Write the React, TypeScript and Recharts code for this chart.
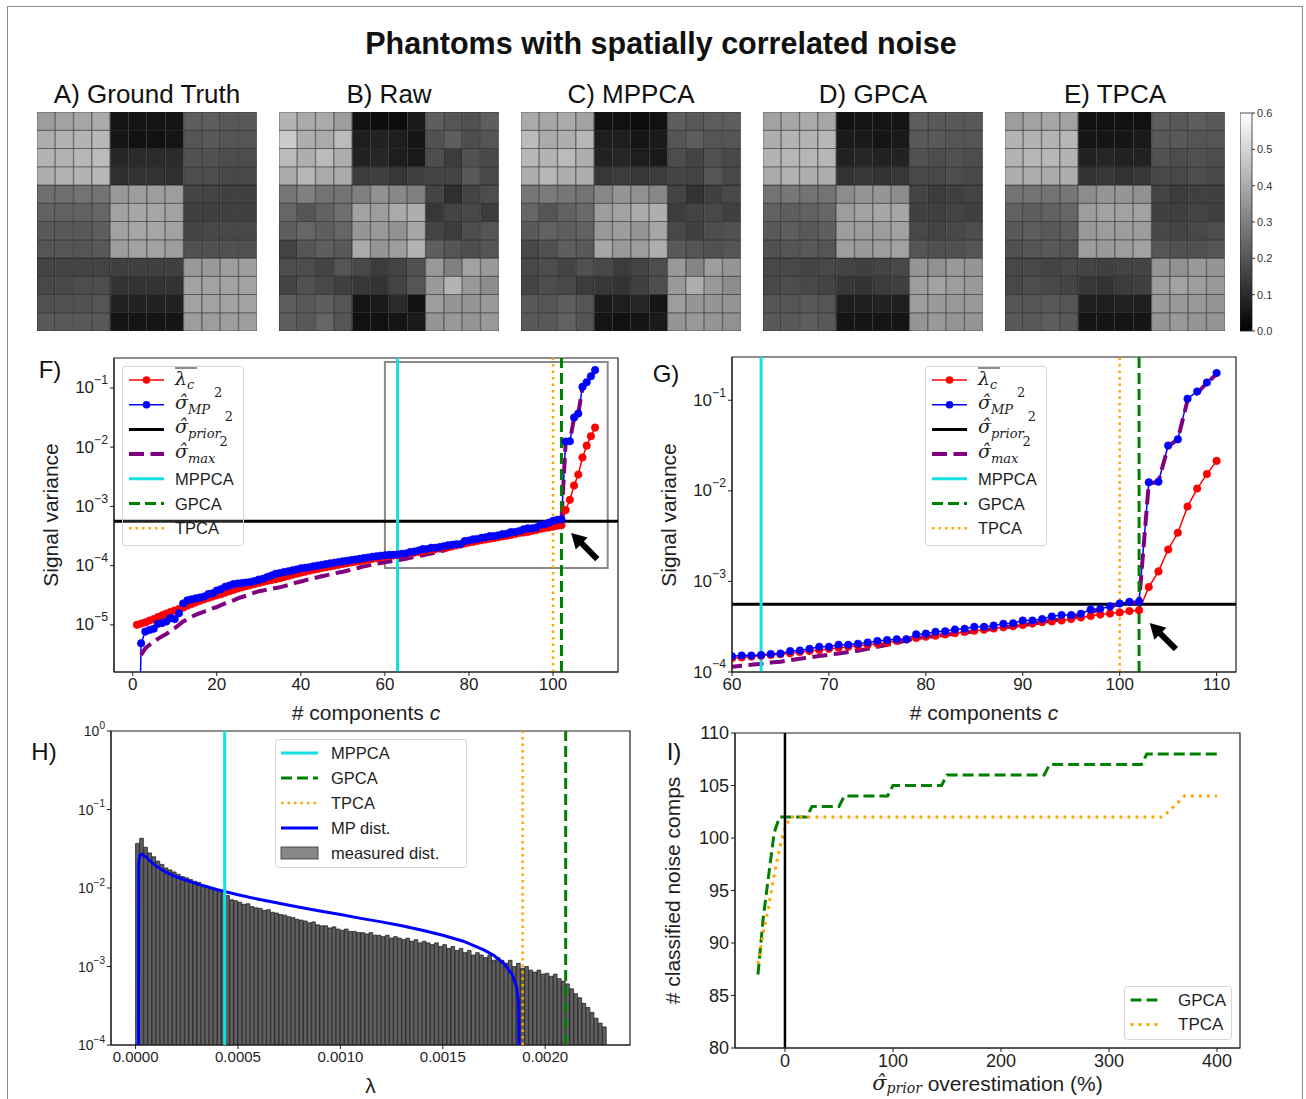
import React from "react";
import {
  LineChart,
  Line,
  BarChart,
  Bar,
  Cell,
  XAxis,
  YAxis,
  ReferenceLine,
  ReferenceArea,
  ReferenceDot,
  Legend,
} from "recharts";

const FONT = '"Liberation Sans", Arial, Helvetica, sans-serif';
const MATH = '"DejaVu Serif", "Liberation Serif", serif';
const INK = "#1e1e1e";
const RED = "#ff0000";
const BLUE = "#0000ff";
const PURPLE = "#800080";
const CYAN = "#14e0e0";
const GREEN = "#008000";
const ORANGE = "#ffa500";

// ---- phantom images, pixel values x100 (colour scale 0 .. 0.6) ----
const GROUND_TRUTH = [
  [37, 38, 39, 40, 5, 5, 5, 5, 22, 22, 21, 21],
  [41, 42, 42, 43, 5, 4, 4, 5, 20, 21, 20, 20],
  [42, 42, 43, 44, 9, 10, 10, 10, 19, 19, 18, 18],
  [41, 42, 42, 43, 11, 12, 12, 11, 18, 18, 17, 17],
  [26, 26, 27, 27, 36, 37, 37, 37, 16, 16, 15, 15],
  [23, 23, 23, 24, 38, 39, 39, 38, 15, 15, 15, 15],
  [21, 21, 21, 22, 38, 39, 39, 38, 16, 17, 17, 17],
  [20, 20, 20, 21, 37, 38, 38, 37, 19, 19, 19, 19],
  [16, 16, 16, 16, 15, 15, 15, 15, 36, 36, 37, 37],
  [17, 17, 18, 18, 12, 12, 12, 12, 38, 38, 38, 38],
  [19, 19, 19, 20, 8, 8, 8, 8, 38, 38, 38, 38],
  [21, 21, 21, 21, 5, 5, 5, 5, 37, 37, 37, 37],
];
const RAW = [
  [42, 40, 40, 37, 4, 3, 3, 6, 22, 20, 19, 22],
  [48, 41, 40, 44, 7, 8, 7, 5, 19, 22, 18, 20],
  [44, 41, 44, 41, 8, 9, 7, 6, 18, 14, 19, 17],
  [40, 43, 40, 40, 14, 15, 13, 15, 16, 16, 21, 17],
  [28, 30, 27, 27, 30, 34, 32, 30, 16, 11, 16, 18],
  [24, 20, 23, 26, 38, 37, 40, 41, 13, 16, 17, 14],
  [22, 24, 22, 24, 35, 36, 34, 39, 16, 14, 18, 20],
  [16, 20, 22, 21, 40, 35, 37, 42, 22, 20, 18, 20],
  [18, 18, 16, 20, 17, 14, 16, 19, 36, 30, 38, 36],
  [16, 19, 17, 15, 13, 12, 16, 20, 36, 42, 36, 33],
  [22, 21, 22, 20, 5, 6, 10, 4, 37, 35, 35, 36],
  [22, 21, 24, 20, 4, 4, 5, 6, 35, 36, 35, 36],
];
const MPPCA_IMG = [
  [40, 39, 40, 38, 4, 4, 3, 4, 22, 21, 22, 22],
  [44, 40, 41, 43, 7, 7, 5, 6, 20, 22, 20, 20],
  [43, 42, 44, 41, 8, 9, 7, 6, 18, 16, 19, 17],
  [41, 43, 41, 41, 13, 14, 13, 14, 16, 16, 20, 17],
  [28, 29, 28, 27, 32, 35, 34, 32, 16, 12, 15, 17],
  [24, 20, 23, 25, 37, 38, 40, 41, 14, 16, 17, 15],
  [21, 23, 22, 23, 36, 37, 35, 39, 17, 15, 18, 19],
  [17, 19, 22, 21, 39, 36, 37, 41, 21, 20, 19, 20],
  [17, 18, 16, 19, 17, 14, 16, 18, 36, 31, 37, 35],
  [16, 18, 17, 14, 13, 12, 15, 18, 36, 41, 36, 33],
  [21, 20, 22, 20, 6, 7, 9, 5, 37, 35, 35, 35],
  [21, 21, 23, 20, 5, 4, 5, 6, 35, 36, 35, 34],
];
const GPCA_IMG = [
  [38, 39, 40, 39, 4, 5, 5, 5, 22, 21, 21, 21],
  [41, 42, 42, 43, 6, 6, 5, 6, 21, 21, 20, 20],
  [42, 43, 43, 43, 8, 9, 8, 8, 19, 18, 19, 18],
  [40, 42, 41, 41, 12, 13, 12, 13, 17, 17, 18, 17],
  [27, 28, 27, 27, 33, 35, 35, 33, 16, 14, 15, 16],
  [23, 22, 23, 24, 37, 38, 39, 39, 15, 15, 16, 15],
  [21, 22, 21, 22, 37, 37, 37, 38, 17, 16, 17, 18],
  [19, 20, 21, 20, 37, 36, 37, 38, 20, 19, 19, 20],
  [17, 17, 16, 17, 16, 15, 16, 17, 35, 34, 36, 35],
  [17, 18, 17, 16, 13, 12, 14, 15, 37, 38, 37, 36],
  [20, 20, 21, 20, 7, 7, 8, 7, 37, 36, 36, 36],
  [21, 21, 22, 21, 5, 5, 5, 5, 35, 36, 35, 35],
];
const TPCA_IMG = [
  [37, 38, 39, 38, 4, 4, 4, 4, 22, 21, 22, 21],
  [42, 42, 42, 43, 5, 5, 5, 6, 21, 21, 20, 20],
  [42, 43, 43, 42, 8, 9, 8, 8, 19, 18, 19, 18],
  [41, 41, 40, 41, 12, 13, 12, 13, 17, 17, 18, 17],
  [27, 27, 27, 28, 33, 35, 35, 34, 16, 14, 15, 15],
  [23, 22, 23, 24, 37, 38, 38, 38, 15, 15, 16, 15],
  [21, 22, 21, 22, 36, 37, 37, 37, 17, 16, 17, 18],
  [19, 20, 21, 20, 37, 36, 37, 38, 20, 19, 19, 20],
  [17, 17, 16, 17, 16, 15, 16, 16, 35, 34, 36, 35],
  [17, 18, 17, 16, 13, 12, 14, 15, 37, 38, 37, 36],
  [20, 20, 21, 20, 7, 7, 8, 7, 36, 36, 36, 35],
  [21, 21, 22, 21, 5, 5, 5, 5, 35, 36, 35, 35],
];
const PANELS = [
  { title: "A) Ground Truth", grid: GROUND_TRUTH, left: 37 },
  { title: "B) Raw", grid: RAW, left: 279 },
  { title: "C) MPPCA", grid: MPPCA_IMG, left: 521 },
  { title: "D) GPCA", grid: GPCA_IMG, left: 763 },
  { title: "E) TPCA", grid: TPCA_IMG, left: 1005 },
];
const COLORBAR_TICKS = [0, 0.1, 0.2, 0.3, 0.4, 0.5, 0.6];

// ---- F / G: signal variance per component ----
const COMPONENTS = Array.from({ length: 110 }, (_, i) => i + 1);
const LAMBDA_C = [
  1.0e-5, 1.05e-5, 1.1e-5, 1.18e-5, 1.25e-5, 1.35e-5, 1.45e-5, 1.55e-5, 1.65e-5, 1.75e-5,
  1.85e-5, 1.95e-5, 2.1e-5, 2.25e-5, 2.4e-5, 2.55e-5, 2.7e-5, 2.85e-5, 3.0e-5, 3.15e-5,
  3.3e-5, 3.5e-5, 3.7e-5, 3.9e-5, 4.1e-5, 4.3e-5, 4.5e-5, 4.7e-5, 4.9e-5, 5.1e-5,
  5.3e-5, 5.5e-5, 5.7e-5, 5.9e-5, 6.1e-5, 6.4e-5, 6.7e-5, 7.0e-5, 7.3e-5, 7.6e-5,
  7.9e-5, 8.2e-5, 8.5e-5, 8.8e-5, 9.1e-5, 9.4e-5, 9.7e-5, 1.0e-4, 1.03e-4, 1.07e-4,
  1.1e-4, 1.13e-4, 1.16e-4, 1.19e-4, 1.22e-4, 1.26e-4, 1.3e-4, 1.34e-4, 1.38e-4, 1.42e-4,
  1.45e-4, 1.48e-4, 1.51e-4, 1.54e-4, 1.57e-4, 1.61e-4, 1.66e-4, 1.7e-4, 1.75e-4, 1.8e-4,
  1.85e-4, 1.9e-4, 1.95e-4, 2.0e-4, 2.05e-4, 2.12e-4, 2.2e-4, 2.28e-4, 2.37e-4, 2.45e-4,
  2.52e-4, 2.6e-4, 2.68e-4, 2.76e-4, 2.85e-4, 2.93e-4, 3.02e-4, 3.11e-4, 3.2e-4, 3.3e-4,
  3.42e-4, 3.55e-4, 3.62e-4, 3.7e-4, 3.85e-4, 4.0e-4, 4.15e-4, 4.3e-4, 4.42e-4, 4.55e-4,
  4.7e-4, 4.8e-4, 8.65e-4, 1.29e-3, 2.25e-3, 3.44e-3, 6.7e-3, 1.06e-2, 1.53e-2, 2.14e-2,
];
const SIGMA_MP = [
  1e-9, 4.9e-6, 7.7e-6, 8.2e-6, 8.6e-6, 1.04e-5, 1.07e-5, 1.14e-5, 1.3e-5, 1.25e-5,
  1.57e-5, 2.3e-5, 2.6e-5, 2.7e-5, 2.8e-5, 2.9e-5, 3.0e-5, 3.3e-5, 3.4e-5, 3.8e-5,
  4.0e-5, 4.4e-5, 4.6e-5, 4.9e-5, 5.0e-5, 5.1e-5, 5.2e-5, 5.3e-5, 5.5e-5, 5.8e-5,
  6.0e-5, 6.4e-5, 6.8e-5, 7.3e-5, 7.5e-5, 7.8e-5, 8.0e-5, 8.3e-5, 8.6e-5, 9.0e-5,
  9.2e-5, 9.4e-5, 9.7e-5, 1.0e-4, 1.03e-4, 1.06e-4, 1.09e-4, 1.12e-4, 1.15e-4, 1.18e-4,
  1.21e-4, 1.24e-4, 1.27e-4, 1.3e-4, 1.34e-4, 1.37e-4, 1.41e-4, 1.44e-4, 1.47e-4, 1.49e-4,
  1.52e-4, 1.52e-4, 1.54e-4, 1.58e-4, 1.6e-4, 1.7e-4, 1.73e-4, 1.8e-4, 1.9e-4, 1.9e-4,
  2.0e-4, 2.0e-4, 2.05e-4, 2.12e-4, 2.2e-4, 2.25e-4, 2.3e-4, 2.3e-4, 2.6e-4, 2.65e-4,
  2.78e-4, 2.82e-4, 2.95e-4, 3.0e-4, 3.15e-4, 3.15e-4, 3.25e-4, 3.4e-4, 3.45e-4, 3.7e-4,
  3.7e-4, 3.85e-4, 4.1e-4, 4.25e-4, 4.25e-4, 4.4e-4, 4.9e-4, 5.0e-4, 5.3e-4, 5.7e-4,
  5.95e-4, 6.0e-4, 1.24e-2, 1.26e-2, 3.16e-2, 3.7e-2, 1.04e-1, 1.25e-1, 1.57e-1, 2.0e-1,
];
// sigma_max starts at c = 2
const SIGMA_MAX = [
  3.1e-6, 4.0e-6, 4.6e-6, 5.2e-6, 5.8e-6, 6.4e-6, 7.0e-6, 7.9e-6, 8.8e-6,
  1.0e-5, 1.14e-5, 1.25e-5, 1.37e-5, 1.48e-5, 1.58e-5, 1.68e-5, 1.78e-5, 1.9e-5, 2.0e-5,
  2.15e-5, 2.3e-5, 2.45e-5, 2.6e-5, 2.8e-5, 2.95e-5, 3.1e-5, 3.3e-5, 3.5e-5, 3.7e-5,
  3.8e-5, 3.95e-5, 4.05e-5, 4.2e-5, 4.3e-5, 4.5e-5, 4.7e-5, 4.95e-5, 5.2e-5, 5.4e-5,
  5.65e-5, 5.9e-5, 6.1e-5, 6.35e-5, 6.6e-5, 6.85e-5, 7.1e-5, 7.4e-5, 7.65e-5, 7.9e-5,
  8.2e-5, 8.6e-5, 8.9e-5, 9.3e-5, 9.7e-5, 1.0e-4, 1.04e-4, 1.08e-4, 1.11e-4, 1.14e-4,
  1.17e-4, 1.2e-4, 1.23e-4, 1.27e-4, 1.3e-4, 1.35e-4, 1.4e-4, 1.45e-4, 1.5e-4, 1.55e-4,
  1.6e-4, 1.66e-4, 1.72e-4, 1.8e-4, 1.9e-4, 2.0e-4, 2.1e-4, 2.22e-4, 2.35e-4, 2.45e-4,
  2.5e-4, 2.58e-4, 2.65e-4, 2.72e-4, 2.8e-4, 2.9e-4, 3.0e-4, 3.1e-4, 3.2e-4, 3.3e-4,
  3.4e-4, 3.55e-4, 3.7e-4, 3.8e-4, 4.0e-4, 4.2e-4, 4.6e-4, 4.9e-4, 5.3e-4, 5.6e-4,
  5.8e-4, 5.9e-4, 1.2e-2, 1.26e-2, 3.1e-2, 3.7e-2, 1.0e-1, 1.2e-1, 1.55e-1, 1.95e-1,
];
const SIGMA_PRIOR = 5.6e-4;
const MPPCA_C = 63;
const GPCA_C = 102;
const TPCA_C = 100;

// ---- H: eigenvalue distribution ----
const BIN_WIDTH = 0.00002;
const HIST_DENSITY = [
  0.037, 0.043, 0.033, 0.028, 0.025, 0.022, 0.02, 0.018, 0.017, 0.016,
  0.015, 0.014, 0.0135, 0.0128, 0.0122, 0.0118, 0.011, 0.0106, 0.01, 0.0097,
  0.0092, 0.0088, 0.008, 0.0071, 0.0069, 0.0066, 0.0062, 0.0063, 0.0058, 0.0056,
  0.0055, 0.0052, 0.0053, 0.0049, 0.0048, 0.0046, 0.0045, 0.0043, 0.0042, 0.004,
  0.0039, 0.0038, 0.0036, 0.0037, 0.0034, 0.0033, 0.0033, 0.0031, 0.0032, 0.003,
  0.0029, 0.003, 0.0028, 0.0028, 0.0027, 0.0027, 0.0026, 0.0027, 0.0025, 0.0025,
  0.0024, 0.0025, 0.0023, 0.0024, 0.0023, 0.0022, 0.0023, 0.0021, 0.0022, 0.002,
  0.0021, 0.002, 0.0019, 0.002, 0.0018, 0.0019, 0.0017, 0.0018, 0.0016, 0.0017,
  0.0015, 0.0016, 0.0014, 0.0015, 0.0014, 0.0013, 0.0014, 0.0012, 0.0013, 0.0012,
  0.0011, 0.0012, 0.001, 0.0011, 0.00095, 0.001, 0.0009, 0.00085, 0.0009, 0.0008,
  0.00082, 0.00075, 0.0008, 0.0007, 0.00065, 0.0006, 0.00052, 0.00045, 0.0004, 0.00034,
  0.0003, 0.00026, 0.00022, 0.00019, 0.00017,
];
const MP_LAMBDA = [
  0.0000134, 0.000015, 0.00002, 0.00003, 0.00005, 0.00008, 0.0001, 0.00015, 0.0002, 0.0003,
  0.0004, 0.0005, 0.0006, 0.0007, 0.0008, 0.0009, 0.001, 0.0011, 0.0012, 0.0013,
  0.0014, 0.0015, 0.0016, 0.0017, 0.00175, 0.0018, 0.00184, 0.00186, 0.00187, 0.00188,
];
const MP_DENSITY = [
  1e-6, 0.02, 0.026, 0.027, 0.025, 0.021, 0.019, 0.0158, 0.0138, 0.0113,
  0.0095, 0.0082, 0.0072, 0.0064, 0.0057, 0.0051, 0.0046, 0.0041, 0.0037, 0.0033,
  0.0029, 0.0025, 0.0021, 0.00163, 0.00138, 0.00108, 0.00078, 0.00055, 0.00035, 1e-6,
];
const MPPCA_L = 0.000435;
const TPCA_L = 0.00189;
const GPCA_L = 0.0021;

// ---- I: classified noise components vs prior overestimation ----
const OVERESTIMATION_PCT = Array.from({ length: 86 }, (_, i) => -25 + i * 5);
const GPCA_COUNT = [
  87, 92.5, 96.5, 100.5, 102, 102, 102, 102, 102, 102,
  103, 103, 103, 103, 103, 103, 104, 104, 104, 104,
  104, 104, 104, 104, 104, 105, 105, 105, 105, 105,
  105, 105, 105, 105, 105, 106, 106, 106, 106, 106,
  106, 106, 106, 106, 106, 106, 106, 106, 106, 106,
  106, 106, 106, 106, 107, 107, 107, 107, 107, 107,
  107, 107, 107, 107, 107, 107, 107, 107, 107, 107,
  107, 107, 108, 108, 108, 108, 108, 108, 108, 108,
  108, 108, 108, 108, 108, 108,
];
const TPCA_COUNT = [
  88, 91, 93.5, 96.5, 99, 101, 102, 102, 102, 102,
  102, 102, 102, 102, 102, 102, 102, 102, 102, 102,
  102, 102, 102, 102, 102, 102, 102, 102, 102, 102,
  102, 102, 102, 102, 102, 102, 102, 102, 102, 102,
  102, 102, 102, 102, 102, 102, 102, 102, 102, 102,
  102, 102, 102, 102, 102, 102, 102, 102, 102, 102,
  102, 102, 102, 102, 102, 102, 102, 102, 102, 102,
  102, 102, 102, 102, 102, 102, 102.5, 103, 103.5, 104,
  104, 104, 104, 104, 104, 104,
];

// ---- derived tables ----
const HEAT_STACK = Array.from({ length: 12 }, (_, k) => `s${k}`);
const HEAT_COLUMNS = Array.from({ length: 12 }, (_, j) => {
  const row: Record<string, number> = { col: j };
  HEAT_STACK.forEach((k) => (row[k] = 1));
  return row;
});
const lambdaRows = COMPONENTS.map((c, i) => ({ c, v: LAMBDA_C[i] }));
const mpRows = COMPONENTS.map((c, i) => ({ c, v: SIGMA_MP[i] }));
const maxRows = SIGMA_MAX.map((v, i) => ({ c: i + 2, v }));
const histRows = HIST_DENSITY.map((v, i) => ({ x: (i + 0.5) * BIN_WIDTH, v }));
const mpDistRows = MP_LAMBDA.map((x, i) => ({ x, y: MP_DENSITY[i] }));
const iRows = OVERESTIMATION_PCT.map((p, i) => ({ p, gpca: GPCA_COUNT[i], tpca: TPCA_COUNT[i] }));

const H_X: [number, number] = [-0.00012, 0.002414];
const H_Y: [number, number] = [1e-4, 1];
const H_MARGIN = { top: 11, right: 14, bottom: 54, left: 97 };
const H_BAR_PX = (BIN_WIDTH * 519) / (H_X[1] - H_X[0]);

const grey = (v: number) => {
  const g = Math.round(Math.max(0, Math.min(1, v / 60)) * 255);
  return `rgb(${g},${g},${g})`;
};

const logTick = (size: number) => (props: any) => {
  const { x, y, payload } = props;
  const e = Math.round(Math.log10(payload.value));
  return (
    <text x={x} y={y} textAnchor="end" dominantBaseline="central" fontFamily={FONT} fontSize={size} fill={INK}>
      10
      <tspan fontSize={size * 0.72} dy={-size * 0.45}>
        {e === 0 ? "0" : `\u2212${-e}`}
      </tspan>
    </text>
  );
};

const vTitle = (x: number, y: number, children: React.ReactNode) => () => (
  <text
    transform={`translate(${x},${y}) rotate(-90)`}
    textAnchor="middle"
    dominantBaseline="central"
    fontFamily={FONT}
    fontSize={21}
    fill={INK}
  >
    {children}
  </text>
);

const hTitle = (x: number, y: number, children: React.ReactNode) => () => (
  <text x={x} y={y} textAnchor="middle" dominantBaseline="central" fontFamily={FONT} fontSize={21} fill={INK}>
    {children}
  </text>
);

function Arrow({ cx, cy }: { cx: number; cy: number }) {
  return (
    <g transform={`translate(${cx},${cy}) rotate(-135)`}>
      <polygon points="0,0 -15,-8.5 -15,-3 -37,-3 -37,3 -15,3 -15,8.5" fill="#000" />
    </g>
  );
}

function SigmaHat({ x, y, sub }: { x: number; y: number; sub: string }) {
  return (
    <text x={x} y={y + 4} fontFamily={MATH} fontStyle="italic" fontSize={19} fill={INK}>
      {"\u03C3\u0302"}
      <tspan fontSize={13} dy={5}>
        {sub}
      </tspan>
      <tspan fontSize={13} fontStyle="normal" dx={4} dy={-17}>
        2
      </tspan>
    </text>
  );
}

function VarianceLegend() {
  const ys = [0, 1, 2, 3, 4, 5, 6].map((i) => 14 + i * 24.7);
  const h0 = 7;
  const h1 = 42;
  const tx = 53;
  const label = (y: number, t: string) => (
    <text x={tx} y={y} dominantBaseline="central" fontFamily={FONT} fontSize={16.5} fill={INK}>
      {t}
    </text>
  );
  return (
    <svg width={122} height={180} style={{ display: "block", overflow: "visible" }}>
      <rect x={0.5} y={0.5} width={121} height={179} rx={3} fill="rgba(255,255,255,0.15)" stroke="#d4d4d4" />
      <line x1={h0} x2={h1} y1={ys[0]} y2={ys[0]} stroke={RED} strokeWidth={1.5} />
      <circle cx={(h0 + h1) / 2} cy={ys[0]} r={3.8} fill={RED} />
      <line x1={tx} x2={tx + 22} y1={ys[0] - 12} y2={ys[0] - 12} stroke={INK} strokeWidth={1} />
      <text x={tx} y={ys[0] + 5} fontFamily={MATH} fontStyle="italic" fontSize={19} fill={INK}>
        λ
        <tspan fontSize={13} dy={4}>
          c
        </tspan>
      </text>
      <line x1={h0} x2={h1} y1={ys[1]} y2={ys[1]} stroke={BLUE} strokeWidth={1.5} />
      <circle cx={(h0 + h1) / 2} cy={ys[1]} r={3.8} fill={BLUE} />
      <SigmaHat x={tx} y={ys[1]} sub="MP" />
      <line x1={h0} x2={h1} y1={ys[2]} y2={ys[2]} stroke="#000" strokeWidth={3} />
      <SigmaHat x={tx} y={ys[2]} sub="prior" />
      <line x1={h0} x2={h1} y1={ys[3]} y2={ys[3]} stroke={PURPLE} strokeWidth={4} strokeDasharray="15 6.5" />
      <SigmaHat x={tx} y={ys[3]} sub="max" />
      <line x1={h0} x2={h1} y1={ys[4]} y2={ys[4]} stroke={CYAN} strokeWidth={3} />
      {label(ys[4], "MPPCA")}
      <line x1={h0} x2={h1} y1={ys[5]} y2={ys[5]} stroke={GREEN} strokeWidth={3} strokeDasharray="11 5" />
      {label(ys[5], "GPCA")}
      <line x1={h0} x2={h1} y1={ys[6]} y2={ys[6]} stroke={ORANGE} strokeWidth={2.5} strokeDasharray="2.5 4" />
      {label(ys[6], "TPCA")}
    </svg>
  );
}

function DistLegend() {
  const ys = [0, 1, 2, 3, 4].map((i) => 14 + i * 25);
  const h0 = 6;
  const h1 = 43;
  const label = (y: number, t: string) => (
    <text x={56} y={y} dominantBaseline="central" fontFamily={FONT} fontSize={16.5} fill={INK}>
      {t}
    </text>
  );
  return (
    <svg width={192} height={129} style={{ display: "block", overflow: "visible" }}>
      <rect x={0.5} y={0.5} width={191} height={128} rx={3} fill="rgba(255,255,255,0.8)" stroke="#d4d4d4" />
      <line x1={h0} x2={h1} y1={ys[0]} y2={ys[0]} stroke={CYAN} strokeWidth={3} />
      {label(ys[0], "MPPCA")}
      <line x1={h0} x2={h1} y1={ys[1]} y2={ys[1]} stroke={GREEN} strokeWidth={3} strokeDasharray="11 5" />
      {label(ys[1], "GPCA")}
      <line x1={h0} x2={h1} y1={ys[2]} y2={ys[2]} stroke={ORANGE} strokeWidth={2.5} strokeDasharray="2.5 4" />
      {label(ys[2], "TPCA")}
      <line x1={h0} x2={h1} y1={ys[3]} y2={ys[3]} stroke={BLUE} strokeWidth={3} />
      {label(ys[3], "MP dist.")}
      <rect x={h0} y={ys[4] - 6} width={h1 - h0} height={12} fill="#888" stroke="#333" strokeWidth={0.8} />
      {label(ys[4], "measured dist.")}
    </svg>
  );
}

function CountLegend() {
  const ys = [14, 38.5];
  return (
    <svg width={108} height={54} style={{ display: "block", overflow: "visible" }}>
      <rect x={0.5} y={0.5} width={107} height={53} rx={3} fill="rgba(255,255,255,0.8)" stroke="#d4d4d4" />
      <line x1={6.5} x2={38} y1={ys[0]} y2={ys[0]} stroke={GREEN} strokeWidth={3} strokeDasharray="11 5" />
      <text x={54} y={ys[0]} dominantBaseline="central" fontFamily={FONT} fontSize={17} fill={INK}>
        GPCA
      </text>
      <line x1={6.5} x2={38} y1={ys[1]} y2={ys[1]} stroke={ORANGE} strokeWidth={3} strokeDasharray="3 5" />
      <text x={54} y={ys[1]} dominantBaseline="central" fontFamily={FONT} fontSize={17} fill={INK}>
        TPCA
      </text>
    </svg>
  );
}

function Heatmap({ grid }: { grid: number[][] }) {
  return (
    <BarChart
      width={220}
      height={219}
      data={HEAT_COLUMNS}
      margin={{ top: 0, right: 0, bottom: 0, left: 0 }}
      barCategoryGap={0}
      barGap={0}
    >
      <XAxis dataKey="col" hide />
      <YAxis type="number" domain={[0, 12]} hide />
      {HEAT_STACK.map((key, k) => (
        <Bar
          key={key}
          dataKey={key}
          stackId="cells"
          isAnimationActive={false}
          stroke="rgba(20,20,20,0.55)"
          strokeWidth={0.8}
        >
          {HEAT_COLUMNS.map((_, j) => (
            <Cell key={j} fill={grey(grid[11 - k][j])} />
          ))}
        </Bar>
      ))}
    </BarChart>
  );
}

function Colorbar() {
  return (
    <BarChart
      width={52}
      height={230}
      data={[{ k: "scale", range: [0, 0.6] }]}
      margin={{ top: 6, right: 0, bottom: 6, left: 0 }}
      barCategoryGap={0}
    >
      <XAxis dataKey="k" hide />
      <YAxis
        orientation="right"
        type="number"
        domain={[0, 0.6]}
        ticks={COLORBAR_TICKS}
        tickFormatter={(v: number) => v.toFixed(1)}
        width={40}
        tickSize={3}
        axisLine={false}
        stroke="#333"
        tick={{ fontSize: 11, fill: "#333", fontFamily: FONT }}
      />
      <Bar dataKey="range" fill="url(#greyRamp)" stroke="#222" strokeWidth={0.8} isAnimationActive={false} />
    </BarChart>
  );
}

type VarianceProps = {
  xDomain: [number, number];
  xTicks: number[];
  yDomain: [number, number];
  yTicks: number[];
  margin: { top: number; right: number; bottom: number; left: number };
  yWidth: number;
  arrow: { x: number; y: number };
  legendLeft: number;
  xTitleX: number;
  yTitleX: number;
  inset?: boolean;
};

function VariancePanel(p: VarianceProps) {
  return (
    <LineChart width={620} height={390} margin={p.margin}>
      <XAxis
        type="number"
        dataKey="c"
        domain={p.xDomain}
        ticks={p.xTicks}
        allowDataOverflow
        height={58}
        tickSize={4}
        stroke={INK}
        tick={{ fontSize: 17, fill: INK, fontFamily: FONT }}
        label={hTitle(p.xTitleX, 372, <>
          # components <tspan fontStyle="italic">c</tspan>
        </>)}
      />
      <YAxis
        type="number"
        scale="log"
        domain={p.yDomain}
        ticks={p.yTicks}
        allowDataOverflow
        width={p.yWidth}
        tickSize={4}
        stroke={INK}
        tick={logTick(17)}
        label={vTitle(p.yTitleX, 175, "Signal variance")}
      />
      <ReferenceArea
        x1={p.xDomain[0]}
        x2={p.xDomain[1]}
        y1={p.yDomain[0]}
        y2={p.yDomain[1]}
        fill="none"
        stroke={INK}
        strokeWidth={1.2}
      />
      <Line
        data={lambdaRows}
        dataKey="v"
        stroke={RED}
        strokeWidth={1.5}
        dot={{ r: 3.8, fill: RED, stroke: RED, strokeWidth: 0.5 }}
        activeDot={false}
        isAnimationActive={false}
      />
      <Line
        data={mpRows}
        dataKey="v"
        stroke={BLUE}
        strokeWidth={1.5}
        dot={{ r: 3.8, fill: BLUE, stroke: BLUE, strokeWidth: 0.5 }}
        activeDot={false}
        isAnimationActive={false}
      />
      <ReferenceLine y={SIGMA_PRIOR} stroke="#000" strokeWidth={3} />
      <Line
        data={maxRows}
        dataKey="v"
        stroke={PURPLE}
        strokeWidth={4}
        strokeDasharray="15 6.5"
        dot={false}
        activeDot={false}
        isAnimationActive={false}
      />
      <ReferenceLine x={MPPCA_C} stroke={CYAN} strokeWidth={3} />
      <ReferenceLine x={GPCA_C} stroke={GREEN} strokeWidth={3} strokeDasharray="11 5" />
      <ReferenceLine x={TPCA_C} stroke={ORANGE} strokeWidth={2.5} strokeDasharray="2.5 4" />
      {p.inset && (
        <ReferenceArea x1={60} x2={113} y1={9.1e-5} y2={0.275} fill="none" stroke="#8a8a8a" strokeWidth={2} />
      )}
      <ReferenceDot x={p.arrow.x} y={p.arrow.y} r={0} shape={(s: any) => <Arrow cx={s.cx} cy={s.cy} />} />
      <Legend
        layout="vertical"
        align="center"
        verticalAlign="middle"
        content={() => <VarianceLegend />}
        wrapperStyle={{ left: p.legendLeft, top: 26, width: 122, height: 180 }}
      />
    </LineChart>
  );
}

// histogram with axes underneath, MP curve + thresholds on an overlay with the same geometry
function PanelH() {
  return (
    <div style={{ position: "relative", width: 630, height: 379 }}>
      <div style={{ position: "absolute", left: 0, top: 0 }}>
        <BarChart
          width={630}
          height={379}
          data={histRows}
          margin={{ top: H_MARGIN.top, right: H_MARGIN.right, bottom: 0, left: 0 }}
          barGap={0}
          barCategoryGap={0}
        >
          <XAxis
            type="number"
            dataKey="x"
            domain={H_X}
            ticks={[0, 0.0005, 0.001, 0.0015, 0.002]}
            tickFormatter={(v: number) => v.toFixed(4)}
            allowDataOverflow
            height={H_MARGIN.bottom}
            tickSize={4}
            stroke={INK}
            tick={{ fontSize: 15, fill: INK, fontFamily: FONT }}
            label={hTitle(356.5, 365, "λ")}
          />
          <YAxis
            type="number"
            scale="log"
            domain={H_Y}
            ticks={[1e-4, 1e-3, 1e-2, 1e-1, 1]}
            allowDataOverflow
            width={H_MARGIN.left}
            tickSize={4}
            stroke={INK}
            tick={logTick(14)}
          />
          <ReferenceArea x1={H_X[0]} x2={H_X[1]} y1={H_Y[0]} y2={H_Y[1]} fill="none" stroke={INK} strokeWidth={1.2} />
          <Bar
            dataKey="v"
            barSize={H_BAR_PX}
            fill="#606060"
            stroke="#141414"
            strokeWidth={0.7}
            isAnimationActive={false}
          />
        </BarChart>
      </div>
      <div style={{ position: "absolute", left: 0, top: 0 }}>
        <LineChart width={630} height={379} margin={H_MARGIN}>
          <XAxis type="number" dataKey="x" domain={H_X} allowDataOverflow hide />
          <YAxis type="number" scale="log" domain={H_Y} allowDataOverflow hide />
          <Line
            data={mpDistRows}
            dataKey="y"
            stroke={BLUE}
            strokeWidth={3}
            dot={false}
            activeDot={false}
            isAnimationActive={false}
          />
          <ReferenceLine x={MPPCA_L} stroke={CYAN} strokeWidth={3} />
          <ReferenceLine x={GPCA_L} stroke={GREEN} strokeWidth={3} strokeDasharray="11 5" />
          <ReferenceLine x={TPCA_L} stroke={ORANGE} strokeWidth={2.5} strokeDasharray="2.5 4" />
          <Legend
            layout="vertical"
            align="center"
            verticalAlign="middle"
            content={() => <DistLegend />}
            wrapperStyle={{ left: 261, top: 19, width: 192, height: 129 }}
          />
        </LineChart>
      </div>
    </div>
  );
}

function PanelI() {
  return (
    <LineChart width={614} height={379} data={iRows} margin={{ top: 13, right: 14, bottom: 0, left: 0 }}>
      <XAxis
        type="number"
        dataKey="p"
        domain={[-46.25, 421.25]}
        ticks={[0, 100, 200, 300, 400]}
        allowDataOverflow
        height={51}
        tickSize={4}
        stroke={INK}
        tick={{ fontSize: 18, fill: INK, fontFamily: FONT }}
        label={hTitle(347.5, 363, <>
          <tspan fontFamily={MATH} fontStyle="italic">{"\u03C3\u0302"}</tspan>
          <tspan fontFamily={MATH} fontStyle="italic" fontSize={14} dy={5}>prior</tspan>
          <tspan dy={-5}> overestimation (%)</tspan>
        </>)}
      />
      <YAxis
        type="number"
        domain={[80, 110]}
        ticks={[80, 85, 90, 95, 100, 105, 110]}
        allowDataOverflow
        width={95}
        tickSize={4}
        stroke={INK}
        tick={{ fontSize: 18, fill: INK, fontFamily: FONT }}
        label={vTitle(32, 170.5, "# classified noise comps")}
      />
      <ReferenceArea x1={-46.25} x2={421.25} y1={80} y2={110} fill="none" stroke={INK} strokeWidth={1.2} />
      <Line
        dataKey="gpca"
        stroke={GREEN}
        strokeWidth={3}
        strokeDasharray="11 5"
        dot={false}
        activeDot={false}
        isAnimationActive={false}
      />
      <Line
        dataKey="tpca"
        stroke={ORANGE}
        strokeWidth={3}
        strokeDasharray="3 5"
        dot={false}
        activeDot={false}
        isAnimationActive={false}
      />
      <ReferenceLine x={0} stroke="#000" strokeWidth={2.5} />
      <Legend
        layout="vertical"
        align="center"
        verticalAlign="middle"
        content={() => <CountLegend />}
        wrapperStyle={{ left: 484, top: 266, width: 108, height: 54 }}
      />
    </LineChart>
  );
}

const at = (left: number, top: number): React.CSSProperties => ({ position: "absolute", left, top });

function CenteredText({ x, y, size, bold, children }: { x: number; y: number; size: number; bold?: boolean; children: React.ReactNode }) {
  return (
    <div
      style={{
        position: "absolute",
        left: x,
        top: y,
        transform: "translate(-50%, -50%)",
        fontFamily: FONT,
        fontSize: size,
        fontWeight: bold ? 700 : 400,
        lineHeight: 1,
        whiteSpace: "nowrap",
        color: "#111",
      }}
    >
      {children}
    </div>
  );
}

export default function App() {
  return (
    <div style={{ position: "relative", width: 1306, height: 1099, background: "#fff", overflow: "hidden" }}>
      <style>{`body{margin:0}`}</style>
      <svg width={0} height={0} style={{ position: "absolute" }}>
        <defs>
          <linearGradient id="greyRamp" x1="0" y1="1" x2="0" y2="0">
            <stop offset="0" stopColor="#000" />
            <stop offset="1" stopColor="#fff" />
          </linearGradient>
        </defs>
      </svg>
      <div style={{ position: "absolute", left: 7, top: 6, width: 1294, height: 1120, border: "1.5px solid #8c8c8c" }} />

      <CenteredText x={661} y={43} size={30.5} bold>
        Phantoms with spatially correlated noise
      </CenteredText>

      {PANELS.map((p) => (
        <React.Fragment key={p.title}>
          <CenteredText x={p.left + 110} y={94} size={26}>
            {p.title}
          </CenteredText>
          <div style={at(p.left, 112)}>
            <Heatmap grid={p.grid} />
          </div>
        </React.Fragment>
      ))}
      <div style={at(1240, 107)}>
        <Colorbar />
      </div>

      <div style={at(14, 340)}>
        <VariancePanel
          xDomain={[-4.45, 115.45]}
          xTicks={[0, 20, 40, 60, 80, 100]}
          yDomain={[1.6e-6, 0.32]}
          yTicks={[1e-5, 1e-4, 1e-3, 1e-2, 1e-1]}
          margin={{ top: 18, right: 16, bottom: 0, left: 0 }}
          yWidth={100}
          arrow={{ x: 104.3, y: 3.57e-4 }}
          legendLeft={108}
          xTitleX={352}
          yTitleX={36}
          inset
        />
      </div>
      <div style={at(630, 340)}>
        <VariancePanel
          xDomain={[60, 112]}
          xTicks={[60, 70, 80, 90, 100, 110]}
          yDomain={[1e-4, 0.3]}
          yTicks={[1e-4, 1e-3, 1e-2, 1e-1]}
          margin={{ top: 17, right: 14, bottom: 0, left: 0 }}
          yWidth={102}
          arrow={{ x: 103.1, y: 3.47e-4 }}
          legendLeft={295}
          xTitleX={354}
          yTitleX={38}
        />
      </div>
      <div style={at(14, 720)}>
        <PanelH />
      </div>
      <div style={at(640, 720)}>
        <PanelI />
      </div>

      <CenteredText x={50} y={370} size={24}>F)</CenteredText>
      <CenteredText x={666} y={374} size={24}>G)</CenteredText>
      <CenteredText x={44} y={752} size={24}>H)</CenteredText>
      <CenteredText x={674} y={752} size={24}>I)</CenteredText>
    </div>
  );
}
